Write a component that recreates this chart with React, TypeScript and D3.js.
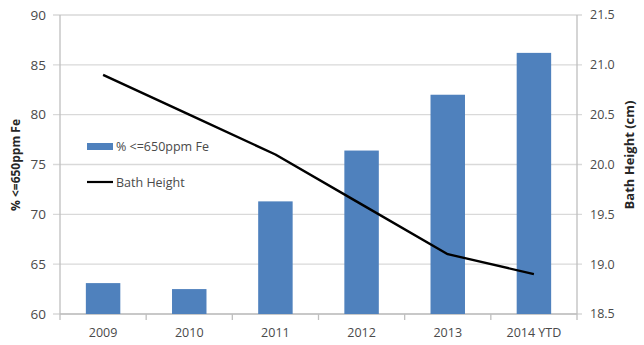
import React from "react";
import * as d3 from "d3";

const categories = ["2009", "2010", "2011", "2012", "2013", "2014 YTD"];
const pctValues = [63.1, 62.5, 71.3, 76.4, 82.0, 86.2];
const bathHeight = [20.9, 20.5, 20.1, 19.6, 19.1, 18.9];
const leftTicks = [60, 65, 70, 75, 80, 85, 90];
const rightTicks = [18.5, 19.0, 19.5, 20.0, 20.5, 21.0, 21.5];
const seriesNames = ["% <=650ppm Fe", "Bath Height"];

const W = 644;
const H = 345;
const plot = { left: 60, right: 577, top: 15, bottom: 314 };
const FONT = "'Open Sans', 'Liberation Sans', sans-serif";
const BLUE = "#4f81bd";
const GRID = "#d9d9d9";
const AXIS = "#bfbfbf";
const TEXT = "#4a4a4a";

export default function App() {
  const x = d3
    .scaleBand<string>()
    .domain(categories)
    .range([plot.left, plot.right])
    .paddingInner(0.6)
    .paddingOuter(0.3);
  const step = x.step();
  const yL = d3.scaleLinear().domain([60, 90]).range([plot.bottom, plot.top]);
  const yR = d3.scaleLinear().domain([18.5, 21.5]).range([plot.bottom, plot.top]);

  const line = d3
    .line<number>()
    .x((_, i) => (x(categories[i]) as number) + x.bandwidth() / 2)
    .y((d) => yR(d))
    .curve(d3.curveLinear);

  const fmtR = d3.format(".1f");
  const boundaries = d3.range(categories.length + 1).map((i) => plot.left + i * step);

  return (
    <svg
      width={W}
      height={H}
      style={{ position: "absolute", left: 0, top: 0, background: "#fff" }}
      fontFamily={FONT}
    >
      {/* gridlines with outward tick stubs on both sides */}
      {leftTicks.map((t) => (
        <line
          key={"g" + t}
          x1={plot.left - 7}
          x2={plot.right + 5}
          y1={yL(t)}
          y2={yL(t)}
          stroke={GRID}
          strokeWidth={1.3}
        />
      ))}
      {/* vertical axis lines */}
      <line x1={plot.left} x2={plot.left} y1={plot.top} y2={plot.bottom} stroke={AXIS} strokeWidth={1.3} />
      <line x1={plot.right} x2={plot.right} y1={plot.top} y2={plot.bottom} stroke={AXIS} strokeWidth={1.3} />
      {/* category axis */}
      <line x1={plot.left} x2={plot.right} y1={plot.bottom} y2={plot.bottom} stroke={AXIS} strokeWidth={1.3} />
      {boundaries.map((bx, i) => (
        <line key={"b" + i} x1={bx} x2={bx} y1={plot.bottom} y2={plot.bottom + 6} stroke={AXIS} strokeWidth={1.3} />
      ))}

      {/* bars */}
      {pctValues.map((v, i) => (
        <rect
          key={"bar" + i}
          x={x(categories[i])}
          y={yL(v)}
          width={x.bandwidth()}
          height={yL(60) - yL(v)}
          fill={BLUE}
        />
      ))}

      {/* bath height line */}
      <path d={line(bathHeight) || ""} fill="none" stroke="#000" strokeWidth={2.4} strokeLinejoin="round" />

      {/* left tick labels */}
      {leftTicks.map((t) => (
        <text key={"lt" + t} x={46} y={yL(t)} dy="0.35em" textAnchor="end" fontSize={13.5} fill={TEXT}>
          {t}
        </text>
      ))}
      {/* right tick labels */}
      {rightTicks.map((t) => (
        <text key={"rt" + t} x={590} y={yR(t)} dy="0.35em" textAnchor="start" fontSize={12.5} fill={TEXT}>
          {fmtR(t)}
        </text>
      ))}
      {/* category labels */}
      {categories.map((c) => (
        <text
          key={"c" + c}
          x={(x(c) as number) + x.bandwidth() / 2}
          y={337}
          textAnchor="middle"
          fontSize={12.5}
          fill={TEXT}
        >
          {c}
        </text>
      ))}

      {/* axis titles */}
      <text
        transform={`translate(20, ${165}) rotate(-90)`}
        textAnchor="middle"
        fontSize={12}
        fontWeight="bold"
        fill="#262626"
      >
        {seriesNames[0]}
      </text>
      <text
        transform={`translate(634, ${155}) rotate(-90)`}
        textAnchor="middle"
        fontSize={13}
        fontWeight="bold"
        fill="#262626"
      >
        Bath Height (cm)
      </text>

      {/* legend */}
      <rect x={87} y={143} width={26} height={7} fill={BLUE} />
      <text x={116} y={151} fontSize={12.5} fill={TEXT}>
        {seriesNames[0]}
      </text>
      <line x1={87} x2={113} y1={182} y2={182} stroke="#000" strokeWidth={2.2} />
      <text x={116} y={186.5} fontSize={12.5} fill={TEXT}>
        {seriesNames[1]}
      </text>
    </svg>
  );
}
